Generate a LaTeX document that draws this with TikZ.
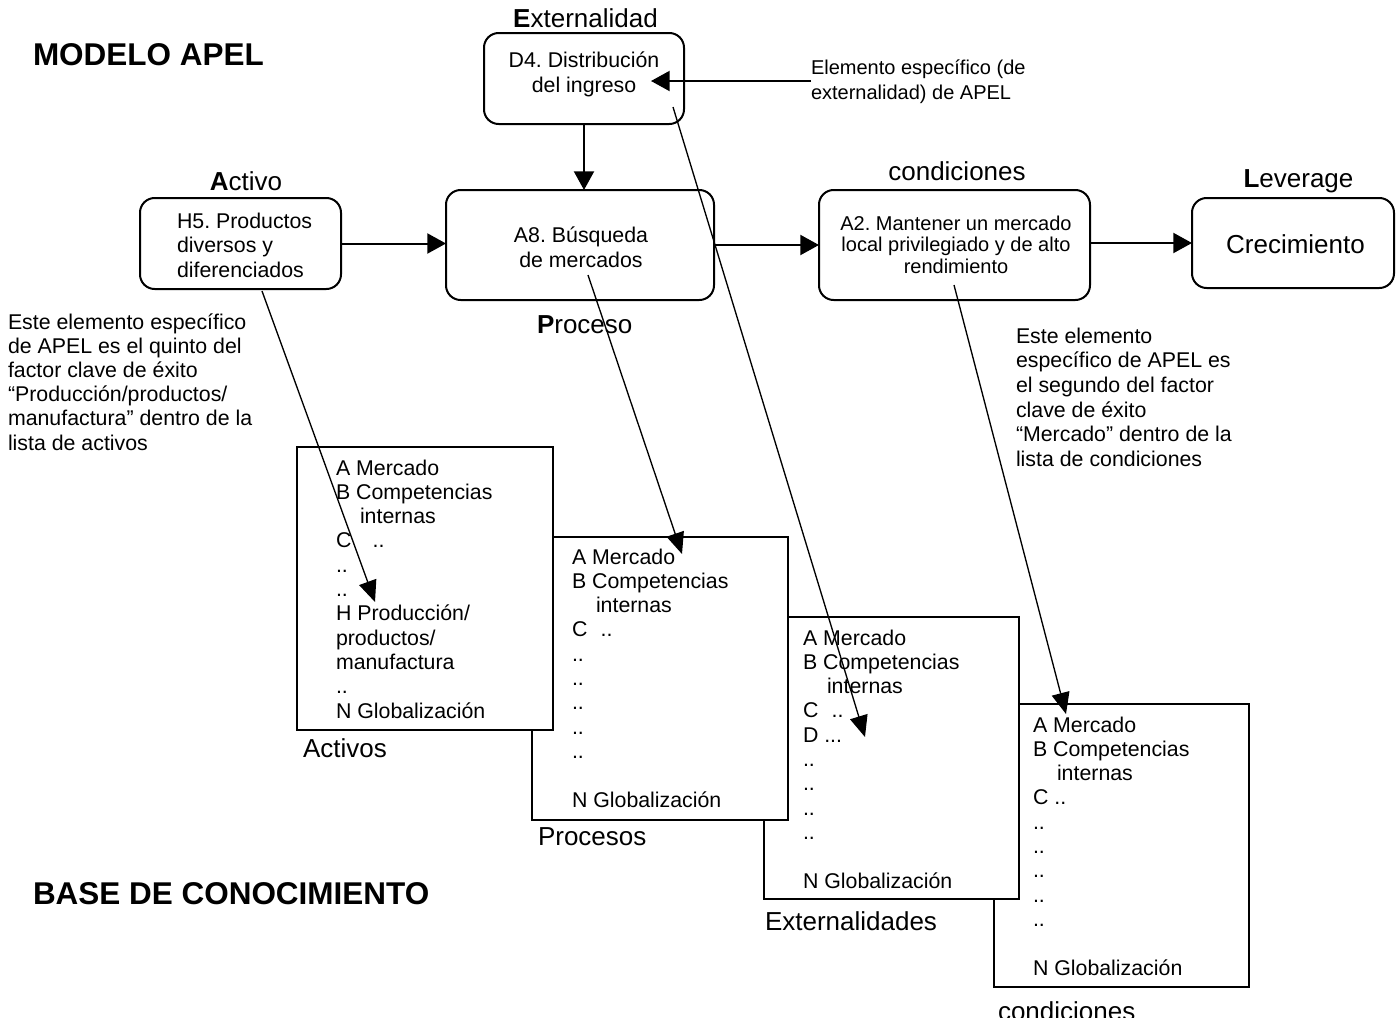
\documentclass[tikz,border=0pt]{standalone}
\usepackage{fontspec}
\setmainfont{Liberation Sans}
\usetikzlibrary{arrows.meta,fit}
\frenchspacing

% one text node per line: name prefix, style, x, first baseline, line step, lines
\newcommand\txtlines[6]{%
  \foreach \linetxt [count=\idx from 0] in {#6}{%
    \node[#2] (#1\idx) at ({#3},{#4+#5*\idx}) {\linetxt};}%
}
% dot runs kept out of \foreach's range syntax
\newcommand\twodots{..}
\newcommand\threedots{...}

\tikzset{
  every node/.style={inner sep=0pt, outer sep=0pt},
  rbox/.style={draw, line width=1.5pt, rounded corners=11pt},
  listbox/.style={draw, fill=white, line width=1.1pt},
  body/.style={font=\fontsize{16}{19}\selectfont},
  small/.style={font=\fontsize{15}{18}\selectfont},
  lab/.style={font=\fontsize{19.5}{23}\selectfont},
  title/.style={font=\fontsize{23.6}{28}\selectfont\bfseries},
  conn/.style={line width=1.5pt, -{Triangle[length=14pt,width=15pt]}},
  diag/.style={line width=1pt, -{Triangle[length=16pt,width=13.5pt]}},
}

\begin{document}
\begin{tikzpicture}[x=0.75pt, y=-0.75pt]
\useasboundingbox (0,0) rectangle (1397,1018);
\fill[white] (0,0) rectangle (1397,1018);

% titles
\node[title, anchor=base west] (t1) at (33,65) {MODELO APEL};
\node[title, anchor=base west] (t2) at (33,904) {BASE DE CONOCIMIENTO};

% APEL model boxes
\node[rbox, fit={(484,33) (684,124)}] (d4) {};
\node[rbox, fit={(140,198) (341,289)}] (h5) {};
\node[rbox, fit={(446,190) (714,300)}] (a8) {};
\node[rbox, fit={(819,190) (1090,300)}] (a2) {};
\node[rbox, fit={(1192,198) (1394,288)}] (crec) {};

% box headings
\node[lab, anchor=base] (lE) at (585.5,27) {\textbf{E}xternalidad};
\node[lab, anchor=base] (lA) at (246,190) {\textbf{A}ctivo};
\node[lab, anchor=base west] (lP) at (537,333) {\textbf{P}roceso};
\node[lab, anchor=base] (lC) at (957,180) {condiciones};
\node[lab, anchor=base] (lL) at (1298.5,187) {\textbf{L}everage};

% box contents
\txtlines{d4t}{body,anchor=base}{584}{67}{25}{D4. Distribución,del ingreso}
\txtlines{h5t}{body,anchor=base west}{177}{228}{24.5}{H5. Productos,diversos y,diferenciados}
\txtlines{a8t}{body,anchor=base}{581}{242}{25}{A8. Búsqueda,de mercados}
\txtlines{a2t}{small,anchor=base}{956}{230}{21.5}{A2. Mantener un mercado,local privilegiado y de alto,rendimiento}
\node[lab, anchor=base] (crect) at (1295.5,253) {Crecimiento};

% notes
\txtlines{elt}{small,anchor=base west}{811}{74}{25}{Elemento específico (de,externalidad) de APEL}
\txtlines{nl}{body,anchor=base west}{8}{329}{24.2}{Este elemento específico,de APEL es el quinto del,factor clave de éxito,“Producción/productos/,manufactura” dentro de la,lista de activos}
\txtlines{nr}{body,anchor=base west}{1016}{343}{24.7}{Este elemento,específico de APEL es,el segundo del factor,clave de éxito,“Mercado” dentro de la,lista de condiciones}

% knowledge base lists (back to front)
\node[listbox, fit={(994,704) (1249,987)}] (lcon) {};
\txtlines{lct}{body,anchor=base west}{1033}{732}{24.3}{A Mercado,B Competencias,\hspace*{18pt}internas,C \twodots,\twodots,\twodots,\twodots,\twodots,\twodots,\mbox{},N Globalización}
\node[lab, anchor=base west] (lconl) at (998,1020) {condiciones};

\node[listbox, fit={(764,617) (1019,899)}] (lext) {};
\txtlines{let}{body,anchor=base west}{803}{645}{24.3}{A Mercado,B Competencias,\hspace*{18pt}internas,C\hspace{10pt}\twodots,D \threedots,\twodots,\twodots,\twodots,\twodots,\mbox{},N Globalización}
\node[lab, anchor=base west] (lextl) at (765,930) {Externalidades};

\node[listbox, fit={(532,537) (788,820)}] (lpro) {};
\txtlines{lpt}{body,anchor=base west}{572}{564}{24.3}{A Mercado,B Competencias,\hspace*{18pt}internas,C\hspace{10pt}\twodots,\twodots,\twodots,\twodots,\twodots,\twodots,\mbox{},N Globalización}
\node[lab, anchor=base west] (lprol) at (538,845) {Procesos};

\node[listbox, fit={(297,447) (553,730)}] (lact) {};
\txtlines{lat}{body,anchor=base west}{336}{475}{24.3}{A Mercado,B Competencias,\hspace*{18pt}internas,C\hspace{16pt}\twodots,\twodots,\twodots,H Producción/,productos/,manufactura,\twodots,N Globalización}
\node[lab, anchor=base west] (lactl) at (303,757) {Activos};

% flow of the model
\draw[conn] (h5.east) -- (h5.east -| a8.west);
\draw[conn] (a8.east) -- (a8.east -| a2.west);
\draw[conn] (crec.west -| a2.east) -- (crec.west);
\draw[conn] (d4.south) -- (d4.south |- a8.north);

\coordinate (elfrom) at (811,81);
\coordinate (eltip) at (651,81);
\draw[conn] (elfrom) -- (eltip);

% links from each element to its place in the lists
\coordinate (h5from) at (262,291);
\coordinate (h5tip) at (375,602);
\coordinate (a8from) at (588,275);
\coordinate (a8tip) at (682,554);
\coordinate (d4from) at (673,107);
\coordinate (d4tip) at (865,737);
\coordinate (a2from) at (954,285);
\coordinate (a2tip) at (1066,714);
\draw[diag] (h5from) -- (h5tip);
\draw[diag] (a8from) -- (a8tip);
\draw[diag] (d4from) -- (d4tip);
\draw[diag] (a2from) -- (a2tip);
\end{tikzpicture}
\end{document}
